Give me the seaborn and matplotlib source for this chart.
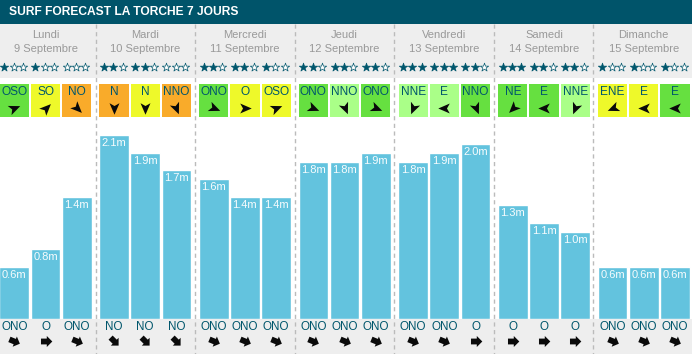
import numpy as np
import pandas as pd
import matplotlib
matplotlib.use("Agg")
import matplotlib.pyplot as plt
import seaborn as sns
from matplotlib.markers import MarkerStyle
from matplotlib.patches import Rectangle
from matplotlib.path import Path
from matplotlib.transforms import Affine2D

TITLE = "SURF FORECAST LA TORCHE 7 JOURS"
days = ["Lundi", "Mardi", "Mercredi", "Jeudi", "Vendredi", "Samedi", "Dimanche"]
dates = ["9 Septembre", "10 Septembre", "11 Septembre", "12 Septembre",
         "13 Septembre", "14 Septembre", "15 Septembre"]
heights = [0.6, 0.8, 1.4, 2.1, 1.9, 1.7, 1.6, 1.4, 1.4, 1.8, 1.8, 1.9,
           1.8, 1.9, 2.0, 1.3, 1.1, 1.0, 0.6, 0.6, 0.6]
stars = [1, 1, 0, 2, 2, 0, 2, 2, 1, 2, 2, 2, 3, 3, 2, 3, 2, 2, 1, 1, 1]
wind_dir = ["OSO", "SO", "NO", "N", "N", "NNO", "ONO", "O", "OSO", "ONO", "NNO", "ONO",
            "NNE", "E", "NNO", "NE", "E", "NNE", "ENE", "E", "E"]
wind_quality = ["g", "y", "o", "o", "y", "o", "g", "y", "y", "g", "l", "g",
                "l", "l", "g", "g", "g", "l", "y", "y", "g"]
swell_dir = ["ONO", "O", "ONO", "NO", "NO", "NO", "ONO", "ONO", "ONO", "ONO", "ONO", "ONO",
             "ONO", "ONO", "O", "O", "O", "O", "ONO", "ONO", "ONO"]

QUALITY = {"g": "#66e040", "l": "#aaff88", "y": "#eef92a", "o": "#f9ab2a"}
COMPASS = ["N", "NNE", "NE", "ENE", "E", "ESE", "SE", "SSE", "S", "SSO", "SO", "OSO",
           "O", "ONO", "NO", "NNO"]
NAVY = "#00566c"
BLUE = "#63c3de"
GREY = "#999999"
W, H = 692, 354
BASE_Y = 319
PX_PER_M = 87.4
DAY_STEP = 99.7
SLOT_STEP = 31.2


def slot_x(i):
    d, s = divmod(i, 3)
    return 14.3 + d * DAY_STEP + s * SLOT_STEP


def heading(label):
    """Degrees clockwise from north the arrow points to (wind goes away from its origin)."""
    return COMPASS.index(label) * 22.5 + 180


DART = Path([(0, 1), (0.8, -0.85), (0, -0.4), (-0.8, -0.85), (0, 1)],
            [Path.MOVETO, Path.LINETO, Path.LINETO, Path.LINETO, Path.CLOSEPOLY])
BLOCK = Path([(0, 1), (0.95, 0.05), (0.5, 0.05), (0.5, -0.95), (-0.5, -0.95),
              (-0.5, 0.05), (-0.95, 0.05), (0, 1)],
             [Path.MOVETO] + [Path.LINETO] * 6 + [Path.CLOSEPOLY])


def arrow(ax, x, y, path, label, size):
    m = MarkerStyle(path, transform=Affine2D().rotate_deg(-heading(label)))
    ax.scatter([x], [y], marker=m, s=size, color="#0a0a0a", linewidths=0, zorder=6)


sns.set_theme(style="white")
plt.rcParams["font.family"] = ["Liberation Sans", "DejaVu Sans"]

fig = plt.figure(figsize=(W / 100, H / 100), dpi=100, facecolor="white")

# Overlay in pixel units
bg = fig.add_axes([0, 0, 1, 1], zorder=1)
bg.set_xlim(0, W)
bg.set_ylim(H, 0)
bg.axis("off")
bg.add_patch(Rectangle((0, 0), W, 24, color="#00546a", lw=0))
bg.add_patch(Rectangle((0, 24), W, 54, color="#eeeeee", lw=0))
bg.add_patch(Rectangle((0, BASE_Y), W, H - BASE_Y, color="#eeeeee", lw=0))
bg.text(9, 12.3, TITLE, color="white", fontsize=8.65, fontweight="bold", va="center", ha="left")

# Bars, on a real metre scale
top_y = 120
ax = fig.add_axes([0, (H - BASE_Y) / H, 1, (BASE_Y - top_y) / H], zorder=2)
ax.patch.set_alpha(0)
df = pd.DataFrame({"pos": [slot_x(i) for i in range(len(heights))], "height": heights})
sns.barplot(data=df, x="pos", y="height", native_scale=True, width=0.95, color=BLUE,
            saturation=1, ax=ax, errorbar=None)
ax.set_xlim(0, W)
ax.set_ylim(0, (BASE_Y - top_y) / PX_PER_M)
ax.axis("off")
for i, h in enumerate(heights):
    ax.text(slot_x(i), h - 8 / PX_PER_M, f"{h:.1f}m", color="white", fontsize=8.0,
            ha="center", va="center", alpha=0.95)

# Top layer
fg = fig.add_axes([0, 0, 1, 1], zorder=3)
fg.patch.set_alpha(0)
fg.set_xlim(0, W)
fg.set_ylim(H, 0)
fg.axis("off")

for d in range(1, len(days)):
    x = 95.7 + (d - 1) * 99.45
    fg.plot([x, x], [24, H], color="#bbbbbb", lw=1, ls=(0, (3, 2.5)), zorder=1)

for d, (name, date) in enumerate(zip(days, dates)):
    cx = slot_x(3 * d + 1)
    fg.text(cx, 35.5, name, color=GREY, fontsize=8.0, ha="center", va="center")
    fg.text(cx, 48.5, date, color=GREY, fontsize=8.0, ha="center", va="center")

for i in range(len(heights)):
    x = slot_x(i)
    fg.add_patch(Rectangle((x - 14.6, 84), 29.2, 33, color=QUALITY[wind_quality[i]], lw=0, zorder=2))
    fg.text(x, 92, wind_dir[i], color=NAVY, fontsize=8.6, ha="center", va="center", zorder=5)
    arrow(fg, x, 108, DART, wind_dir[i], 80)
    for k in range(3):
        filled = k < stars[i]
        fg.scatter([x + (k - 1) * 9.4 - 0.7], [67], marker="*", s=40,
                   facecolors=NAVY if filled else "white", edgecolors=NAVY,
                   linewidths=0.5, zorder=5)
    fg.text(x, 327.3, swell_dir[i], color=NAVY, fontsize=8.4, ha="center", va="center", zorder=5)
    arrow(fg, x, 340.7, BLOCK, swell_dir[i], 70)

fig.savefig("out.png", dpi=100)
